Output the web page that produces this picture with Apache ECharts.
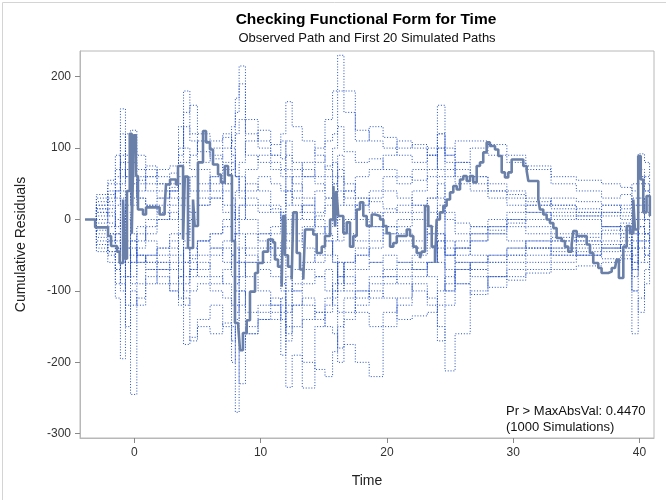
<!DOCTYPE html>
<html>
<head>
    <meta charset="utf-8">
    <script src="https://cdn.jsdelivr.net/npm/echarts@6/dist/echarts.min.js"></script>
    <style>
        html, body { margin: 0; padding: 0; background: #fff; }
        #chart { width: 666px; height: 500px; }
    </style>
</head>
<body>
<div id="chart"></div>
<script type="text/javascript">
    // Axis ticks
    var xTicks = [0, 10, 20, 30, 40];
    var yTicks = [-300, -200, -100, 0, 100, 200];

    // Observed cumulative residual path [time, value]
    var observedPath = [
        [-3.9, 0], [-3.1, -11], [-2.08, -23], [-1.84, -37], [-1.37, -45], [-1.16, -61],
        [-0.89, 28], [-0.74, -55], [-0.58, 40], [-0.36, 120], [-0.2, -20], [-0.05, 118],
        [0.13, 61], [0.29, 14], [0.69, 7], [0.93, 17], [2.0, 7], [2.4, 17], [2.51, 49],
        [2.83, 56], [3.3, 49], [3.46, 75], [3.86, -28], [4.0, 60], [4.25, -40], [4.65, 28],
        [4.78, -9], [5.04, 80], [5.44, 124], [5.68, 108], [5.99, 98], [6.23, 77], [6.63, 63],
        [6.86, 52], [7.16, 75], [7.42, 62], [7.73, -30], [7.97, -145], [8.23, -150],
        [8.37, -183], [8.6, -159], [8.9, -141], [9.16, -101], [9.56, -75], [9.79, -61],
        [10.19, -45], [10.59, -28], [10.98, -32], [11.14, -56], [11.38, -66], [11.67, -94],
        [11.77, 5], [11.93, -50], [12.17, -66], [12.46, -84], [12.59, 10], [12.86, -47],
        [13.12, -70], [13.38, -84], [13.52, -14], [14.17, -21], [14.44, -47], [14.84, -38],
        [15.1, -23], [15.5, 0], [15.76, 47], [15.9, -10], [16.0, 40], [16.15, 5], [16.55, -19],
        [16.82, -4], [17.08, -38], [17.34, -23], [17.61, 14], [17.87, 24], [18.13, 5],
        [18.4, -9], [18.8, 7], [19.06, 5], [19.46, 0], [19.72, -9], [19.98, -19], [20.25, -38],
        [20.51, -33], [20.78, -23], [21.57, -14], [21.83, -23], [22.09, -38], [22.36, -47],
        [22.62, -54], [22.76, -45], [23.02, 19], [23.28, -9], [23.55, -38], [23.81, -61],
        [23.94, 0], [24.2, 10], [24.47, 19], [24.73, 28], [25.0, 38], [25.26, 47], [25.53, 42],
        [25.79, 56], [26.05, 61], [26.32, 54], [26.58, 61], [26.84, 52], [27.11, 75],
        [27.37, 80], [27.63, 94], [27.9, 108], [28.16, 103], [28.56, 98], [28.82, 89],
        [29.09, 66], [29.35, 59], [29.61, 66], [29.88, 84], [30.8, 75], [31.07, 68],
        [31.2, 54], [31.99, 28], [32.12, 14], [32.38, 7], [32.65, 0], [32.91, -5], [33.18, -12],
        [33.44, -26], [33.84, -30], [34.1, -38], [34.36, -45], [34.63, -35], [34.76, -16],
        [35.03, -23], [35.82, -35], [36.08, -47], [36.34, -61], [36.74, -68], [37.0, -75],
        [37.53, -73], [37.8, -68], [38.06, -66], [38.19, -56], [38.37, -82], [38.72, -38],
        [38.99, -9], [39.25, -19], [39.51, 28], [39.64, -14], [39.9, 89], [40.1, 56],
        [40.3, 10], [40.56, 33], [40.82, 5]
    ];

    // Event times shared by the simulated paths
    var simTimes = [-3.9, -3.0, -2.1, -1.5, -1.1, -0.7, -0.3, 0.2, 0.9, 1.8,
        2.8, 3.5, 3.9, 4.4, 5.0, 6.0, 7.0, 7.7, 8.0, 8.3,
        8.8, 9.8, 10.8, 11.6, 12.0, 12.5, 13.3, 14.3, 15.1, 15.7,
        16.1, 16.6, 17.5, 18.6, 19.7, 20.8, 22.0, 23.2, 24.0, 24.6,
        25.4, 26.6, 28.0, 29.5, 31.0, 33.0, 35.0, 37.0, 38.5, 39.4,
        39.9, 40.4, 40.8];

    // First 20 simulated paths
    var sim1 = [0, 20, 35, 60, 155, 90, 40, 55, 60, 50, 65, 100, 130, 110, 95, 85, 100, 130, 170, 215, 120, 110, 90, 85, 110, 80, 70, 60, 75, 100, 130, 95, 80, 85, 70, 60, 55, 70, 100, 80, 60, 50, 40, 35, 25, 20, 15, 10, 5, 20, 60, 40, 20];
    var sim2 = [0, -15, -30, -60, -90, -120, -245, -110, -80, -70, -60, -80, -40, -55, -30, -20, -10, 0, 40, 60, 20, 10, 15, 0, -40, -30, -10, 5, 20, 60, 90, 40, 30, 25, 15, 10, 20, 30, 50, 10, -5, -10, -15, -5, 0, 10, 5, -10, -15, -40, 10, -20, -5];
    var sim3 = [0, -25, -45, -110, -195, -80, -40, -60, -50, -40, -30, -60, -100, -70, -60, -80, -90, -120, -60, -20, -50, -60, -40, -50, -100, -70, -60, -50, -30, -60, -90, -60, -50, -40, -20, -10, 0, -20, -60, -100, -70, -60, -50, -40, -30, -25, -35, -40, -45, -100, -60, -50, -30];
    var sim4 = [0, 10, 25, 40, 70, 60, 80, 50, 40, 30, 45, 90, 180, 120, 70, 40, 20, 10, -40, -80, -60, -70, -80, -100, -160, -120, -236, -150, -120, -100, -80, -90, -70, -60, -50, -60, -70, -60, -30, -50, -40, -30, -20, -10, -20, -30, -25, -15, -10, -20, 20, 0, -10];
    var sim5 = [0, -35, -50, -70, -100, -60, -80, -50, -60, -70, -90, -110, -175, -165, -150, -160, -145, -170, -130, -100, -130, -120, -110, -140, -170, -150, -140, -130, -110, -90, -60, -80, -100, -110, -90, -80, -70, -60, -40, -50, -30, -20, -10, 0, -10, -20, -30, -20, -25, -60, -30, -40, -20];
    var sim6 = [0, 15, 30, 50, 80, 40, 60, 30, 20, 10, 0, 30, 60, 40, 20, 30, 50, 70, 120, 140, 90, 80, 70, 60, 90, 70, 60, 80, 140, 180, 230, 180, 125, 110, 100, 90, 80, 100, 120, 90, 70, 60, 50, 40, 30, 20, 10, 20, 15, 30, 50, 40, 30];
    var sim7 = [0, -10, -20, -40, -60, -30, -90, -60, -50, -60, -70, -90, -120, -100, -90, -100, -110, -150, -270, -180, -150, -130, -120, -110, -130, -100, -90, -80, -70, -100, -130, -110, -100, -90, -80, -70, -60, -80, -120, -90, -70, -60, -50, -40, -30, -40, -50, -45, -40, -70, -30, -50, -40];
    var sim8 = [0, 5, 10, -20, -50, -30, -60, -40, -20, 0, 10, -20, -60, -40, -30, -20, 0, -20, -60, -40, -20, -30, -50, -90, -235, -190, -200, -210, -220, -185, -150, -130, -110, -80, -70, -60, -50, -40, -20, -50, -40, -30, -20, -30, -40, -50, -40, -30, -20, -40, 0, -20, -30];
    var sim9 = [0, 25, 40, 30, 50, 70, 20, 40, 60, 70, 75, 50, 30, 60, 80, 100, 115, 90, 60, 80, 110, 125, 105, 120, 165, 130, 110, 90, 70, 50, 20, 40, 60, 70, 90, 110, 100, 90, 70, 60, 80, 100, 105, 90, 70, 50, 40, 30, 35, 20, 60, 50, 40];
    var sim10 = [0, -20, -10, 20, 40, 10, -30, -10, -30, -50, -40, -20, -60, -80, -70, -50, -40, -60, -100, -60, -80, -100, -120, -130, -150, -120, -110, -130, -150, -160, -180, -175, -200, -220, -150, -120, -90, -110, -170, -120, -90, -70, -60, -50, -40, -30, -20, -10, -20, -50, -10, -20, -10];
    var sim11 = [0, 30, 20, 0, -40, 20, 50, 30, 20, 30, 40, 60, 20, 10, 30, 50, 40, 20, -20, 0, 30, 20, 10, 0, -30, 10, 20, 0, -20, -50, -80, -60, -40, -60, -80, -90, -100, -120, -150, -212, -160, -100, -80, -70, -60, -50, -45, -40, -35, -60, -20, -30, -25];
    var sim12 = [0, -5, 15, 40, 90, 60, 100, 70, 50, 40, 30, 50, 80, 90, 110, 90, 70, 80, 60, 30, 50, 40, 20, 10, -20, 0, 20, 40, 60, 80, 40, 30, 20, 30, 40, 30, 20, 10, -20, -30, -40, -50, -60, -50, -40, -45, -50, -55, -50, -160, -110, -90, -60];
    var sim13 = [0, 10, -5, -30, -60, -40, -20, -50, -70, -90, -100, -80, -40, -60, -80, -90, -70, -50, -20, 20, 0, -20, -40, -30, 0, -20, -40, -60, -50, -30, 0, -20, -30, -10, 10, 20, 40, 60, 100, 70, 50, 40, 30, 20, 10, 0, 5, 10, 20, 50, 92, 80, 60];
    var sim14 = [0, 35, 55, 70, 120, 80, 30, 60, 75, 60, 50, 80, 150, 160, 120, 110, 120, 100, 60, 40, 70, 90, 80, 70, 40, 60, 80, 100, 110, 120, 180, 150, 110, 130, 115, 100, 105, 90, 160, 90, 110, 110, 90, 80, 75, 60, 55, 50, 45, 40, 70, 60, 40];
    var sim15 = [0, -40, -60, -90, -60, -150, -100, -120, -90, -80, -100, -120, -80, -50, -30, -40, -60, -80, -120, -230, -160, -140, -130, -190, -120, -90, -70, -80, -100, -120, -200, -140, -120, -100, -110, -140, -135, -130, -100, -80, -60, -70, -80, -85, -75, -70, -65, -60, -55, -100, -130, -70, -50];
    var sim16 = [0, 20, 50, 90, 60, 120, 125, 90, 70, 50, 40, 130, 100, 70, 50, 60, 80, 110, 150, 190, 140, 100, 90, 110, 70, 50, 30, 10, 30, 50, 70, 50, 30, 10, -10, -20, -30, -10, 30, 0, -20, -10, 0, 10, 20, 30, 25, 20, 10, 0, 30, 10, 0];
    var sim17 = [0, -45, -30, -20, 10, -40, -60, -30, -10, 0, 20, 0, -30, 0, 20, 30, 10, -20, -80, -120, -60, -40, -20, 0, 40, 20, 0, -20, -10, 0, 60, 20, 0, -10, -20, -30, -40, -20, 20, -40, -60, -80, -95, -80, -70, -60, -50, -40, -30, -70, -10, -30, -20];
    var sim18 = [0, 0, -20, -40, -80, -50, -120, -90, -70, -60, -50, -70, -110, -170, -140, -120, -150, -200, -140, -100, -160, -140, -140, -120, -80, -100, -120, -140, -130, -110, -60, -100, -130, -150, -130, -110, -80, -60, -30, -70, -90, -105, -80, -60, -50, -40, -30, -35, -40, -80, -40, -60, -45];
    var sim19 = [0, 15, 5, -10, 30, 0, -50, -20, 0, 20, 40, 20, -20, 10, 40, 60, 50, 30, 0, 20, 40, 60, 50, 40, 20, 40, 60, 50, 30, 10, -30, 0, 20, 40, 60, 50, 70, 90, 120, 100, 80, 60, 40, 30, 20, 15, 10, 5, 0, -20, 30, 20, 10];
    var sim20 = [0, -30, -45, -70, -40, -80, -30, -50, -60, -40, -20, -50, -90, -70, -50, -40, -30, -50, -90, -60, -40, -20, -10, 10, 60, 30, 10, -10, -30, -60, -100, -70, -50, -30, -10, 0, 10, 30, 60, -100, -50, -20, -10, 0, 10, 5, 0, -10, -5, -30, 20, 0, -10];

    var simPaths = [sim1, sim2, sim3, sim4, sim5, sim6, sim7, sim8, sim9, sim10,
        sim11, sim12, sim13, sim14, sim15, sim16, sim17, sim18, sim19, sim20];

    var fontFamily = 'Liberation Sans, Arial, sans-serif';

    var series = simPaths.map(function (path, k) {
        return {
            name: 'Simulated ' + (k + 1),
            type: 'line',
            step: 'end',
            symbol: 'none',
            silent: true,
            data: simTimes.map(function (t, i) { return [t, path[i]]; }),
            lineStyle: { color: '#2550C4', width: 1, type: [1, 1.8], opacity: 1 }
        };
    });
    series.push({
        name: 'Observed',
        type: 'line',
        step: 'end',
        symbol: 'none',
        data: observedPath,
        lineStyle: { color: '#6A80A8', width: 2.6 },
        z: 5
    });

    var chart = echarts.init(document.getElementById('chart'));
    var option = {
        animation: false,
        textStyle: { fontFamily: fontFamily },
        grid: {
            left: 80, right: 12, top: 51, bottom: 62,
            show: true, borderColor: '#B8B8B8', borderWidth: 1, backgroundColor: '#fff'
        },
        xAxis: {
            type: 'value',
            min: -4.3,
            max: 41.15,
            name: 'Time',
            nameLocation: 'middle',
            nameGap: 36,
            nameTextStyle: { fontSize: 14, color: '#222', fontFamily: fontFamily },
            axisLine: { show: true, onZero: false, lineStyle: { color: '#B8B8B8' } },
            axisTick: { show: true, length: 5, customValues: xTicks, lineStyle: { color: '#888' } },
            axisLabel: { customValues: xTicks, fontSize: 12, color: '#333', margin: 9, fontFamily: fontFamily },
            splitLine: { show: false }
        },
        yAxis: {
            type: 'value',
            min: -306,
            max: 236,
            name: 'Cumulative Residuals',
            nameLocation: 'middle',
            nameGap: 52,
            nameTextStyle: { fontSize: 14, color: '#222', fontFamily: fontFamily },
            axisLine: { show: true, onZero: false, lineStyle: { color: '#B8B8B8' } },
            axisTick: { show: true, length: 5, customValues: yTicks, lineStyle: { color: '#888' } },
            axisLabel: { customValues: yTicks, fontSize: 12, color: '#333', margin: 9, fontFamily: fontFamily },
            splitLine: { show: false }
        },
        graphic: [
            {
                type: 'rect', left: 0, top: 0, silent: true, z: -10,
                shape: { width: 665, height: 499 },
                style: { fill: 'none', stroke: '#D4D4D4', lineWidth: 1 }
            },
            {
                type: 'text', x: 366, y: 20, silent: true,
                style: {
                    text: 'Checking Functional Form for Time', fontSize: 15.5, fontWeight: 'bold',
                    fill: '#000', align: 'center', verticalAlign: 'middle', fontFamily: fontFamily
                }
            },
            {
                type: 'text', x: 367, y: 38, silent: true,
                style: {
                    text: 'Observed Path and First 20 Simulated Paths', fontSize: 13,
                    fill: '#111', align: 'center', verticalAlign: 'middle', fontFamily: fontFamily
                }
            },
            {
                type: 'text', x: 506, y: 411, silent: true, z: 10,
                style: {
                    text: 'Pr > MaxAbsVal: 0.4470', fontSize: 13,
                    fill: '#111', align: 'left', verticalAlign: 'middle', fontFamily: fontFamily
                }
            },
            {
                type: 'text', x: 506, y: 427, silent: true, z: 10,
                style: {
                    text: '(1000 Simulations)', fontSize: 13,
                    fill: '#111', align: 'left', verticalAlign: 'middle', fontFamily: fontFamily
                }
            }
        ],
        series: series
    };
    chart.setOption(option);
</script>
</body>
</html>
